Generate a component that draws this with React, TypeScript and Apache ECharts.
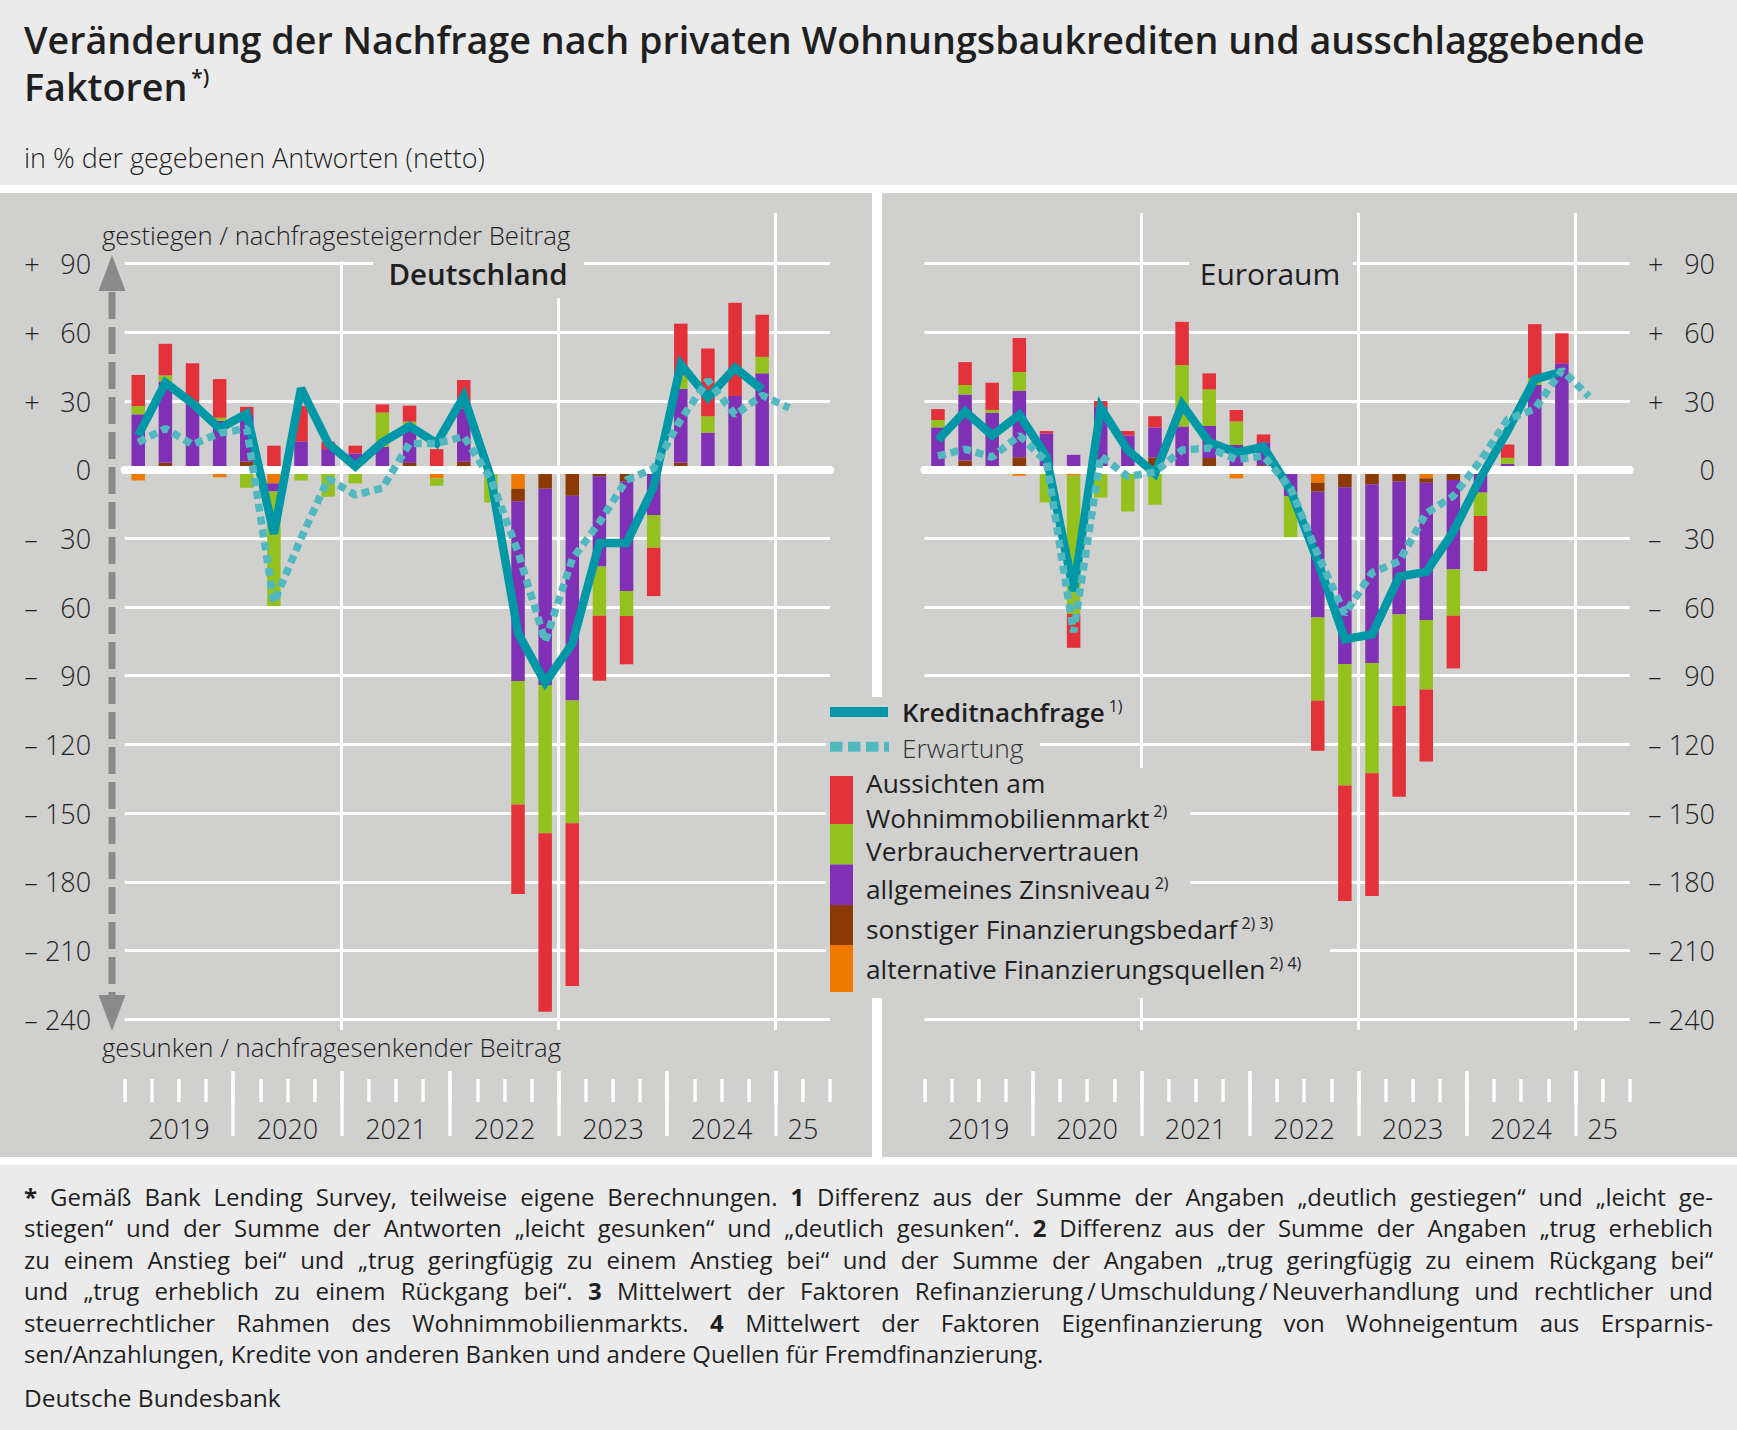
import React, { useEffect, useRef } from 'react';
import * as echarts from 'echarts';

const quarters = [
  '2019 Q1', '2019 Q2', '2019 Q3', '2019 Q4',
  '2020 Q1', '2020 Q2', '2020 Q3', '2020 Q4',
  '2021 Q1', '2021 Q2', '2021 Q3', '2021 Q4',
  '2022 Q1', '2022 Q2', '2022 Q3', '2022 Q4',
  '2023 Q1', '2023 Q2', '2023 Q3', '2023 Q4',
  '2024 Q1', '2024 Q2', '2024 Q3', '2024 Q4',
  '2025 Q1', '2025 Q2'
];

// year labels sit in the middle of their quarters (position counted in quarters from 2019 Q1)
const yearLabels = ['2019', '2020', '2021', '2022', '2023', '2024', '25'];
const yearLabelPos = [2, 6, 10, 14, 18, 22, 25];

const yMin = -240;
const yMax = 90;
const yStep = 30;

// Deutschland
const deAlternativ = [-4.7, 0, 0, -3.3, 0, -6, 0, 0, -0.6, -0.5, 0, -3.8, 0, 0, -8.3, 0, -0.9, 0, 0, 1, 0, 0, 0, 0];
const deSonstiger = [0, 3, 0, 0, 3.5, 0, 0, 0, 0, 0, 3, 0, 3.5, 0, -5.5, -8.3, -10.5, -3, -5, 0, 3, 0, 0, 0];
const deZins = [24.2, 35.5, 29.4, 21.4, 20.4, -3.5, 12.4, 9, 7.1, 10, 14, 0, 23.3, 0, -78.5, -85.8, -89.4, -39.3, -48, -19.8, 32.3, 16.2, 32.2, 42.1];
const deVerbraucher = [3.6, 2.7, 0, 1.3, -7.9, -50, -4.7, -11.8, -5.4, 15, 4, -3.2, 0, -14.3, -54, -64.7, -53.6, -21.5, -10.9, -14.3, 6, 7.2, 0, 7.2];
const deAussichten = [13.6, 13.8, 17.1, 16.9, 3.6, 10.5, 15.5, 3.2, 3.4, 3.5, 7, 9, 12.4, 0, -39, -78, -71.1, -28.4, -21.1, -21.1, 22.5, 29.6, 40.7, 18.4];
const deKreditnachfrage = [15, 38, 29, 18, 24.5, -28, 35.5, 11.5, 1.5, 12, 19, 11.5, 32, -3.5, -71.5, -93, -76, -32, -32, -7.5, 46, 31.5, 44.5, 35];
const deErwartung = [12, 18, 11, 16, 18, -58, -30, -4, -11, -8, 11.5, 11.5, 14.5, -4, -36, -75, -39, -23, -4.5, 0.5, 22, 39, 24, 32.5, 27];

// Euroraum
const euAlternativ = [-0.4, 0, 0, -2.6, 0, -2.6, 0, 0, -0.3, -0.5, -0.3, -3.8, 0, 0, -5.7, 0, -0.7, -0.6, -3.8, -0.8, 0, 0, -0.4, 0];
const euSonstiger = [0, 4, 0, 5.4, 0, 0.5, 0, 0, 5.4, 0, 5.1, 0, 2, 0, -3.9, -7.7, -5.7, -4.6, -1.9, -3.7, 0, 0, 0, 0];
const euZins = [18.5, 28.9, 24.9, 29.1, 15.9, 6, 27.5, 15, 13.1, 18.9, 14, 10.8, 10, -11.5, -55, -77.2, -78, -58, -60, -39, -10, 2.5, 37, 46.5];
const euVerbraucher = [3.2, 4.1, 1.2, 8.2, -14.3, -60.4, -12.2, -18.3, -15, 26.8, 16, 10.3, 0, -18, -36.3, -53, -48.2, -40, -30.3, -20.3, -10.2, 2.7, 3, -0.8];
const euAussichten = [4.8, 10, 11.9, 14.8, 1, -14.8, 2.5, 1.9, 4.9, 18.9, 7, 5, 3.4, 0.5, -21.9, -50.5, -53.6, -39.7, -31.5, -23, -24.1, 5.8, 23.6, 13.1];
const euKreditnachfrage = [13, 25.5, 15, 24, 5.7, -53, 27, 8.5, -1.7, 28.5, 12, 7.5, 10, -9, -40, -74, -72, -46.7, -44.6, -27, -3.5, 17, 39.5, 42.8];
const euErwartung = [6, 9, 5.5, 15, 3.5, -71, 6, -3, -1, 8.6, 9.5, 4.5, 6, -8, -37, -63, -45, -40, -19, -11.5, 4, 22, 26.5, 43.5, 32];

const titleLine1 = 'Veränderung der Nachfrage nach privaten Wohnungsbaukrediten und ausschlaggebende';
const subtitle = 'in % der gegebenen Antworten (netto)';

// '#' marks a bold word
const footnoteLines = [
  '#* Gemäß Bank Lending Survey, teilweise eigene Berechnungen. #1 Differenz aus der Summe der Angaben „deutlich gestiegen“ und „leicht ge-',
  'stiegen“ und der Summe der Antworten „leicht gesunken“ und „deutlich gesunken“. #2 Differenz aus der Summe der Angaben „trug erheblich',
  'zu einem Anstieg bei“ und „trug geringfügig zu einem Anstieg bei“ und der Summe der Angaben „trug geringfügig zu einem Rückgang bei“',
  'und „trug erheblich zu einem Rückgang bei“. #3 Mittelwert der Faktoren Refinanzierung\u2009/\u2009Umschuldung\u2009/\u2009Neuverhandlung und rechtlicher und',
  'steuerrechtlicher Rahmen des Wohnimmobilienmarkts. #4 Mittelwert der Faktoren Eigenfinanzierung von Wohneigentum aus Ersparnis-',
  'sen/Anzahlungen, Kredite von anderen Banken und andere Quellen für Fremdfinanzierung.'
];
const footnoteY = [1196.5, 1227.9, 1259.3, 1290.7, 1322.1, 1353.5];

const W = 1737;
const H = 1430;
const FONT = "'Open Sans', 'Noto Sans', sans-serif";
const INK = '#1f1f1f';
const PAGE = '#ebebeb';
const PANEL = '#d0d0cf';

const RED = '#e3313a';
const GREEN = '#95c11f';
const PURPLE = '#8030b4';
const BROWN = '#8a3a02';
const ORANGE = '#ef7800';
const KREDIT = '#0098a6';
const ERWARTUNG = '#51b8c0';

const GRID_W = 705.3;
const PLOT_TOP = 263.7;
const PLOT_H = 755.4;

const panels = [
  {
    left: 124.7, side: 'left', labelMargin: 33.5,
    factors: [deAlternativ, deSonstiger, deZins, deVerbraucher, deAussichten],
    kredit: deKreditnachfrage, erwartung: deErwartung
  },
  {
    left: 924.4, side: 'right', labelMargin: 18.3,
    factors: [euAlternativ, euSonstiger, euZins, euVerbraucher, euAussichten],
    kredit: euKreditnachfrage, erwartung: euErwartung
  }
];

// stacking order from the zero line outwards
const factorNames = [
  'alternative Finanzierungsquellen',
  'sonstiger Finanzierungsbedarf',
  'allgemeines Zinsniveau',
  'Verbrauchervertrauen',
  'Aussichten am Wohnimmobilienmarkt'
];
const factorColors = [ORANGE, BROWN, PURPLE, GREEN, RED];

function txt(x: number, y: number, text: string, size: number, weight: number, extra: any = {}) {
  return {
    type: 'text', x, y, z: 7, silent: true,
    style: {
      text, fontSize: size, fontWeight: weight, fontFamily: FONT, fill: INK,
      lineHeight: Math.round(size * 1.15), align: 'left', verticalAlign: 'middle', ...extra
    }
  };
}

function rect(x: number, y: number, w: number, h: number, fill: string, z = -5) {
  return { type: 'rect', z, silent: true, shape: { x, y, width: w, height: h }, style: { fill } };
}

function buildOption() {
  const ctx = document.createElement('canvas').getContext('2d') as CanvasRenderingContext2D;
  const measure = (s: string, size: number, weight: number) => {
    ctx.font = `${weight} ${size}px ${FONT}`;
    return ctx.measureText(s).width;
  };

  const titleSize = (38 * 1621) / measure(titleLine1, 38, 600);
  const subSize = (26 * 461) / measure(subtitle, 26, 300);

  const grids: any[] = [];
  const xAxes: any[] = [];
  const yAxes: any[] = [];
  const series: any[] = [];

  const yLabel = (v: number) => {
    if (v === 0) return '{s| }{n|0}';
    return `{s|${v > 0 ? '+' : '–'}}{n|${Math.abs(v)}}`;
  };
  const labelText = { fontSize: 27, fontWeight: 300, fontFamily: FONT, color: INK };

  // main plot grids (0, 1)
  panels.forEach((p, i) => {
    grids.push({ left: p.left, top: PLOT_TOP, width: GRID_W, height: PLOT_H, containLabel: false, outerBoundsMode: 'none' });
    xAxes.push({
      type: 'category', gridIndex: i, data: quarters, boundaryGap: true, z: 3,
      axisLine: { show: true, onZero: true, lineStyle: { color: '#ffffff', width: 8 } },
      axisTick: { show: false }, axisLabel: { show: false }, splitLine: { show: false }
    });
    yAxes.push({
      type: 'value', gridIndex: i, min: yMin, max: yMax, interval: yStep, position: p.side,
      axisLine: { show: false }, axisTick: { show: false },
      splitLine: { show: true, lineStyle: { color: '#ffffff', width: 3 } },
      axisLabel: {
        margin: p.labelMargin, formatter: yLabel,
        rich: {
          s: { ...labelText, width: 21, align: 'left' },
          n: { ...labelText, width: 46, align: 'right' }
        }
      }
    });
  });

  // helper grids: vertical year lines (2,3), short quarter ticks + year labels (4,5), long year ticks (6,7)
  const helper = [
    { top: 213, height: 817, interval: 8, width: 3, minLine: false, labels: false },
    { top: 1079, height: 23, interval: 1, width: 3.5, minLine: true, labels: true },
    { top: 1071, height: 65, interval: 4, width: 3.5, minLine: false, labels: false }
  ];
  helper.forEach((h) => {
    panels.forEach((p) => {
      const gi = grids.length;
      grids.push({ left: p.left, top: h.top, width: GRID_W, height: h.height, containLabel: false, outerBoundsMode: 'none' });
      xAxes.push({
        type: 'value', gridIndex: gi, min: 0, max: quarters.length, interval: h.interval,
        axisLine: { show: false }, axisTick: { show: false },
        splitLine: {
          show: true, showMinLine: h.minLine, showMaxLine: h.minLine,
          lineStyle: { color: '#ffffff', width: h.width }
        },
        axisLabel: h.labels
          ? {
              show: true, margin: 26.5, verticalAlign: 'middle', ...labelText,
              formatter: (v: number) => {
                const k = yearLabelPos.indexOf(v);
                return k >= 0 ? yearLabels[k] : '';
              }
            }
          : { show: false }
      });
      yAxes.push({ type: 'value', gridIndex: gi, min: 0, max: 1, show: false });
    });
  });

  panels.forEach((p, i) => {
    p.factors.forEach((data, f) => {
      series.push({
        type: 'bar', name: factorNames[f], xAxisIndex: i, yAxisIndex: i, stack: 'faktoren' + i,
        barWidth: 13.5, data, itemStyle: { color: factorColors[f] }, z: 2, silent: true
      });
    });
    series.push({
      type: 'line', name: 'Kreditnachfrage', xAxisIndex: i, yAxisIndex: i, data: p.kredit,
      symbol: 'none', z: 5, silent: true,
      lineStyle: { color: KREDIT, width: 8.5, join: 'miter', miterLimit: 3 }
    });
    series.push({
      type: 'line', name: 'Erwartung', xAxisIndex: i, yAxisIndex: i, data: p.erwartung,
      symbol: 'none', z: 6, silent: true,
      lineStyle: { color: ERWARTUNG, width: 7.5, type: [8, 5], cap: 'butt' }
    });
  });

  const g: any[] = [];

  // page background
  g.push(rect(0, 185, W, 8, '#ffffff'));
  g.push(rect(0, 193, 872, 964, PANEL));
  g.push(rect(872, 193, 10, 964, '#ffffff'));
  g.push(rect(882, 193, W - 882, 964, PANEL));
  g.push(rect(0, 1157, W, 8, '#ffffff'));

  // title and subtitle
  g.push(txt(24, 39, titleLine1, titleSize, 600, { lineHeight: 44 }));
  g.push(txt(24, 86, '{t|Faktoren}{sup|*)}', titleSize, 600, {
    rich: {
      t: { fontSize: titleSize, fontWeight: 600, fontFamily: FONT, fill: INK, lineHeight: 44 },
      sup: { fontSize: titleSize * 0.55, fontWeight: 600, fontFamily: FONT, fill: INK, verticalAlign: 'top', padding: [2, 0, 0, 4] }
    }
  }));
  g.push(txt(24, 157, subtitle, subSize, 300));

  // texts that cover the grid lines
  g.push(rect(98, 205, 480, 56.5, PANEL, 4));
  g.push(txt(102, 235, 'gestiegen / nachfragesteigernder Beitrag', 25.7, 300));
  g.push(txt(102, 1047.5, 'gesunken / nachfragesenkender Beitrag', 25.7, 300));
  g.push(rect(373, 205, 211, 93, PANEL, 4));
  g.push(txt(478, 273, 'Deutschland', 29.5, 600, { align: 'center' }));
  g.push(rect(1189, 240, 164, 50, PANEL, 4));
  g.push(txt(1270, 273, 'Euroraum', 30, 500, { align: 'center' }));

  // up/down arrow
  g.push({
    type: 'line', z: 8, silent: true,
    shape: { x1: 112, y1: 292, x2: 112, y2: 996 },
    style: { stroke: '#8a8a8a', lineWidth: 7, lineDash: [27, 8] }
  });
  g.push({ type: 'polygon', z: 8, silent: true, shape: { points: [[112, 255], [98.5, 291], [125.5, 291]] }, style: { fill: '#8a8a8a' } });
  g.push({ type: 'polygon', z: 8, silent: true, shape: { points: [[112, 1031], [98.5, 995], [125.5, 995]] }, style: { fill: '#8a8a8a' } });

  // legend
  const legendRows = [
    [697, 731, 1132], [731, 768, 1040], [768, 833, 1190], [833, 866, 1152],
    [866, 907, 1190], [907, 947, 1300], [947, 998, 1330]
  ];
  legendRows.forEach(([y0, y1, x1]) => g.push(rect(826, y0, x1 - 826, y1 - y0, PANEL, 6)));
  g.push(rect(830, 707, 58, 10, KREDIT, 7));
  g.push({
    type: 'line', z: 7, silent: true,
    shape: { x1: 830, y1: 746.7, x2: 889, y2: 746.7 },
    style: { stroke: ERWARTUNG, lineWidth: 10, lineDash: [12.5, 5.5] }
  });
  const swatches = [[RED, 776, 824], [GREEN, 824, 864.5], [PURPLE, 864.5, 905], [BROWN, 905, 945], [ORANGE, 945, 992]];
  swatches.forEach(([c, y0, y1]) => g.push(rect(830, y0 as number, 23, (y1 as number) - (y0 as number), c as string, 7)));

  const LS = 26.3;
  const legendRich = (weight: number, size: number) => ({
    m: { fontSize: size, fontWeight: weight, fontFamily: FONT, fill: INK, lineHeight: 29 },
    sup: { fontSize: 16, fontWeight: 400, fontFamily: FONT, fill: INK, lineHeight: 16, verticalAlign: 'top', padding: [0, 0, 0, 4] }
  });
  g.push(txt(902, 712, '{m|Kreditnachfrage}{sup|1)}', 26, 600, { rich: legendRich(600, 26) }));
  g.push(txt(902, 748, 'Erwartung', LS, 300, { fill: '#333333', lineHeight: 29 }));
  g.push(txt(866, 783, 'Aussichten am', LS, 400, { lineHeight: 29 }));
  g.push(txt(866, 817.5, '{m|Wohnimmobilienmarkt}{sup|2)}', LS, 400, { rich: legendRich(400, LS) }));
  g.push(txt(866, 851, 'Verbrauchervertrauen', LS, 400, { lineHeight: 29 }));
  g.push(txt(866, 889, '{m|allgemeines Zinsniveau}{sup|2)}', LS, 400, { rich: legendRich(400, LS) }));
  g.push(txt(866, 929, '{m|sonstiger Finanzierungsbedarf}{sup|2) 3)}', LS, 400, { rich: legendRich(400, LS) }));
  g.push(txt(866, 969, '{m|alternative Finanzierungsquellen}{sup|2) 4)}', LS, 400, { rich: legendRich(400, LS) }));

  // footnotes, justified line by line
  const footSize = 24;
  const x0 = 24;
  const lineWidth = 1689;
  footnoteLines.forEach((line, li) => {
    const words = line.split(' ').map((w) => (w.startsWith('#') ? { t: w.slice(1), bold: true } : { t: w, bold: false }));
    const widths = words.map((w) => measure(w.t, footSize, w.bold ? 700 : 400));
    const total = widths.reduce((a, b) => a + b, 0);
    const last = li === footnoteLines.length - 1;
    const gap = last ? measure(' ', footSize, 400) : (lineWidth - total) / (words.length - 1);
    let x = x0;
    words.forEach((w, i) => {
      g.push(txt(x, footnoteY[li], w.t, footSize, w.bold ? 700 : 400, { lineHeight: 29 }));
      x += widths[i] + gap;
    });
  });
  g.push(txt(24, 1397.5, 'Deutsche Bundesbank', 24.5, 400));

  return {
    animation: false,
    backgroundColor: PAGE,
    textStyle: { fontFamily: FONT },
    grid: grids,
    xAxis: xAxes,
    yAxis: yAxes,
    series,
    graphic: { elements: g }
  };
}

export default function App() {
  const ref = useRef<HTMLDivElement>(null);

  useEffect(() => {
    document.body.style.margin = '0';
    if (!ref.current) return;
    const chart = echarts.init(ref.current, null, { renderer: 'svg', width: W, height: H });
    chart.setOption(buildOption());
    return () => chart.dispose();
  }, []);

  return <div ref={ref} style={{ width: W, height: H }} />;
}
